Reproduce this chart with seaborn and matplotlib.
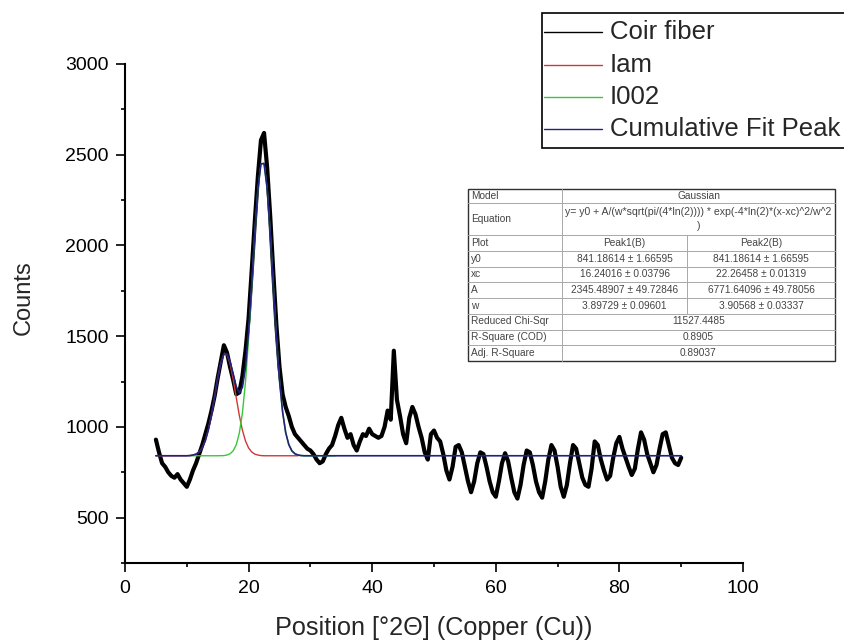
import numpy as np
import matplotlib
matplotlib.use("Agg")
import matplotlib.pyplot as plt
import seaborn as sns
from matplotlib.lines import Line2D
from matplotlib.patches import Rectangle
from matplotlib.ticker import MultipleLocator

# ---------------- data ----------------
theta = np.arange(5.0, 90.01, 0.5)
counts = [
    930, 860, 800, 780, 750, 730, 720, 740, 710, 690,
    670, 710, 760, 800, 850, 900, 960, 1020, 1090, 1170,
    1270, 1360, 1450, 1410, 1330, 1260, 1180, 1190, 1280, 1420,
    1600, 1860, 2130, 2380, 2580, 2620, 2430, 2160, 1850, 1560,
    1330, 1180, 1110, 1060, 1000, 960, 940, 920, 900, 880,
    870, 850, 820, 800, 810, 850, 880, 900, 950, 1010,
    1050, 990, 940, 960, 900, 870, 920, 960, 950, 990,
    960, 950, 940, 950, 1000, 1090, 1040, 1420, 1150, 1060,
    960, 910, 1050, 1110, 1070, 1000, 940, 860, 820, 960,
    980, 940, 920, 850, 760, 710, 780, 890, 900, 860,
    780, 700, 640, 700, 800, 860, 850, 780, 700, 640,
    615, 700, 800, 855, 810, 720, 640, 605, 680, 790,
    870, 860, 790, 700, 640, 610, 700, 820, 900, 870,
    780, 670, 615, 680, 800, 900, 880, 800, 720, 680,
    670, 770, 920, 900, 820, 760, 710, 730, 830, 910,
    945, 880, 830, 780, 735, 770, 880, 970, 930, 850,
    800, 750, 790, 880, 960, 970, 900, 830, 800, 790,
    830,
]

iam_x = [5, 5.5, 6, 6.5, 7, 7.5, 8, 8.5, 9, 9.5, 10,
         10.5, 11, 11.5, 12, 12.5, 13, 13.5, 14, 14.5, 15, 15.5, 16,
         16.5, 17, 17.5, 18, 18.5, 19, 19.5, 20, 20.5, 21, 21.5, 22,
         22.5, 23, 23.5, 24, 24.5, 25, 25.5, 26, 26.5, 27, 27.5, 28]
iam_y = [841, 841, 841, 841, 841, 841, 841, 841, 841, 841, 841,
         842, 845, 850, 862, 885, 924, 985, 1067, 1166, 1268, 1352, 1400,
         1399, 1349, 1264, 1162, 1063, 982, 922, 884, 862, 850, 845, 842,
         841, 841, 841, 841, 841, 841, 841, 841, 841, 841, 841, 841]

i002_x = [10.5, 15, 16, 16.5, 17, 17.5, 18, 18.5, 19, 19.5, 20, 20.5, 21,
          21.5, 22, 22.5, 23, 23.5, 24, 24.5, 25, 25.5, 26, 26.5, 27, 27.5,
          28, 28.5, 29, 34]
i002_y = [841, 841, 842, 845, 852, 868, 901, 966, 1077, 1249, 1485, 1768, 2061,
          2307, 2449, 2452, 2315, 2072, 1780, 1495, 1257, 1083, 969, 903, 868, 852,
          845, 842, 841, 841]

cum_x = [5, 10, 10.5, 11, 11.5, 12, 12.5, 13, 13.5, 14, 14.5, 15, 15.5, 16,
         16.5, 17, 17.5, 18, 18.5, 19, 19.5, 20, 20.5, 21, 21.5, 22, 22.5, 23,
         23.5, 24, 24.5, 25, 25.5, 26, 26.5, 27, 27.5, 28, 28.5, 29, 90]
cum_y = [841, 841, 842, 845, 850, 862, 885, 924, 985, 1067, 1166, 1268, 1352, 1401,
         1403, 1360, 1291, 1222, 1188, 1218, 1330, 1528, 1789, 2070, 2311, 2450, 2452, 2315,
         2072, 1780, 1495, 1257, 1083, 969, 903, 868, 852, 845, 842, 841, 841]

series_labels = ["Coir fiber", "Iam", "I002", "Cumulative Fit Peak"]
series_colors = ["#000000", "#d03838", "#38c838", "#22227e"]

xticks = [0, 20, 40, 60, 80, 100]
yticks = [500, 1000, 1500, 2000, 2500, 3000]

table_row_labels = ["Model", "Equation", "Plot", "y0", "xc", "A", "w",
                    "Reduced Chi-Sqr", "R-Square (COD)", "Adj. R-Square"]
model_name = "Gaussian"
equation_lines = ["y= y0 + A/(w*sqrt(pi/(4*ln(2)))) * exp(-4*ln(2)*(x-xc)^2/w^2", ")"]
plot_names = ["Peak1(B)", "Peak2(B)"]
peak1_params = ["841.18614 ± 1.66595", "16.24016 ± 0.03796",
                "2345.48907 ± 49.72846", "3.89729 ± 0.09601"]
peak2_params = ["841.18614 ± 1.66595", "22.26458 ± 0.01319",
                "6771.64096 ± 49.78056", "3.90568 ± 0.03337"]
fit_stats = ["11527.4485", "0.8905", "0.89037"]

# ---------------- figure ----------------
sns.set_style("ticks")
plt.rcParams["font.family"] = ["Liberation Sans", "DejaVu Sans"]

W, H = 844, 640
fig = plt.figure(figsize=(W / 100, H / 100), dpi=100)
fig.patch.set_facecolor("white")


def fx(px):
    return px / W


def fy(py):
    return 1 - py / H


ax = fig.add_axes([fx(125), fy(563), (743 - 125) / W, (563 - 64) / H])
ax.set_facecolor("white")

sns.lineplot(x=theta, y=counts, color=series_colors[0], linewidth=3.0, ax=ax, zorder=2)
sns.lineplot(x=iam_x, y=iam_y, color=series_colors[1], linewidth=1.0, ax=ax, zorder=3)
sns.lineplot(x=i002_x, y=i002_y, color=series_colors[2], linewidth=1.0, ax=ax, zorder=4)
sns.lineplot(x=cum_x, y=cum_y, color=series_colors[3], linewidth=1.2, ax=ax, zorder=5)

ax.set_xlim(0, 100)
ax.set_ylim(250, 3000)
ax.set_xticks(xticks)
ax.set_yticks(yticks)
ax.xaxis.set_minor_locator(MultipleLocator(10))
ax.yaxis.set_minor_locator(MultipleLocator(250))
ax.tick_params(which="major", direction="out", length=6.2, width=1.2, labelsize=14,
               color="black", labelcolor="black")
ax.tick_params(axis="x", which="major", pad=6)
ax.tick_params(axis="y", which="major", pad=5.5)
ax.tick_params(which="minor", direction="out", length=2.6, width=1.2, color="black")
for s in ["top", "right"]:
    ax.spines[s].set_visible(False)
for s in ["left", "bottom"]:
    ax.spines[s].set_linewidth(1.5)
    ax.spines[s].set_color("black")
ax.set_xlabel("")
ax.set_ylabel("")
ax.grid(False)

fig.text(fx(24), fy(298), "Counts", rotation=90, ha="center", va="center", fontsize=17)
fig.text(fx(434), fy(635), "Position [°2Θ] (Copper (Cu))", ha="center", va="baseline",
         fontsize=18.2)

# ---------------- legend (Origin style box) ----------------
leg_left, leg_top = 542, 13
row_y = [32, 64.5, 97, 129]
leg_bottom = 148
fig.add_artist(Rectangle((fx(leg_left), fy(leg_bottom)), (900 - leg_left) / W,
                         (leg_bottom - leg_top) / H, transform=fig.transFigure,
                         facecolor="white", edgecolor="black", linewidth=1.2, zorder=10))
for lab, col, ry in zip(series_labels, series_colors, row_y):
    fig.add_artist(Line2D([fx(544), fx(602)], [fy(ry), fy(ry)], transform=fig.transFigure,
                          color=col, linewidth=1.0, zorder=11))
    fig.text(fx(610), fy(ry), lab, ha="left", va="center", fontsize=18.5, zorder=11)

# ---------------- parameter table ----------------
tx0, tx1, tx2, tx3 = 468, 562, 687, 835
bounds = [189, 203, 235, 251, 266.5, 282, 298, 313.5, 329.5, 345, 361]
fig.add_artist(Rectangle((fx(tx0), fy(bounds[-1])), (tx3 - tx0) / W,
                         (bounds[-1] - bounds[0]) / H, transform=fig.transFigure,
                         facecolor="white", edgecolor="#303030", linewidth=1.0, zorder=10))
for b in bounds[1:-1]:
    fig.add_artist(Line2D([fx(tx0), fx(tx3)], [fy(b), fy(b)], transform=fig.transFigure,
                          color="#a8a8a8", linewidth=0.7, zorder=11))
fig.add_artist(Line2D([fx(tx1), fx(tx1)], [fy(bounds[0]), fy(bounds[-1])],
                      transform=fig.transFigure, color="#a8a8a8", linewidth=0.7, zorder=11))
fig.add_artist(Line2D([fx(tx2), fx(tx2)], [fy(bounds[2]), fy(bounds[7])],
                      transform=fig.transFigure, color="#a8a8a8", linewidth=0.7, zorder=11))

tcol = "#444444"
tfs = 7.3
centers = [(bounds[i] + bounds[i + 1]) / 2 for i in range(len(bounds) - 1)]
for lab, cy in zip(table_row_labels, centers):
    fig.text(fx(tx0 + 3), fy(cy), lab, ha="left", va="center", fontsize=tfs, color=tcol, zorder=12)
mid_all = (tx1 + tx3) / 2
c2 = (tx1 + tx2) / 2
c3 = (tx2 + tx3) / 2
fig.text(fx(mid_all), fy(centers[0]), model_name, ha="center", va="center",
         fontsize=tfs, color=tcol, zorder=12)
fig.text(fx(mid_all), fy(212), equation_lines[0], ha="center", va="center",
         fontsize=7.6, color=tcol, zorder=12)
fig.text(fx(mid_all), fy(226), equation_lines[1], ha="center", va="center",
         fontsize=7.6, color=tcol, zorder=12)
fig.text(fx(c2), fy(centers[2]), plot_names[0], ha="center", va="center",
         fontsize=tfs, color=tcol, zorder=12)
fig.text(fx(c3), fy(centers[2]), plot_names[1], ha="center", va="center",
         fontsize=tfs, color=tcol, zorder=12)
for i in range(4):
    fig.text(fx(c2), fy(centers[3 + i]), peak1_params[i], ha="center", va="center",
             fontsize=tfs, color=tcol, zorder=12)
    fig.text(fx(c3), fy(centers[3 + i]), peak2_params[i], ha="center", va="center",
             fontsize=tfs, color=tcol, zorder=12)
for i in range(3):
    fig.text(fx(mid_all), fy(centers[7 + i]), fit_stats[i], ha="center", va="center",
             fontsize=tfs, color=tcol, zorder=12)

fig.savefig("out.png", dpi=100, facecolor="white")
